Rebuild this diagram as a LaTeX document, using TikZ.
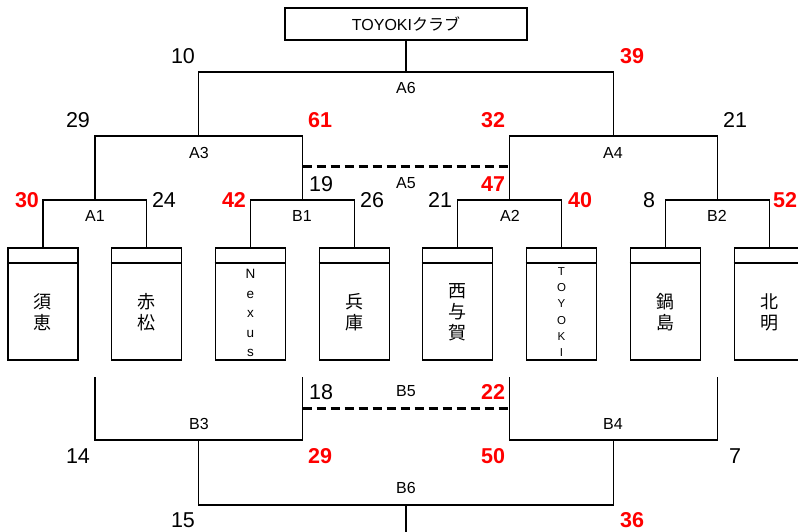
\documentclass[tikz,border=0pt]{standalone}
\usepackage{fontspec}
\setmainfont{Liberation Sans}
\newfontfamily\jpfont{Noto Sans CJK JP}
\usetikzlibrary{positioning}

\tikzset{
  line/.style={line width=1.8pt},
  dashline/.style={line width=3pt, dash pattern=on 9pt off 5pt},
  titlebox/.style={draw, line width=1.8pt, minimum width=242pt, minimum height=32pt, inner sep=0pt, font=\fontsize{16}{16}\selectfont},
  team/.style={draw, line width=1.8pt, minimum width=70pt, minimum height=112pt, inner sep=0pt},
  teamname/.style={align=center, inner sep=0pt, font=\jpfont\fontsize{18}{21}\selectfont},
  match/.style={inner sep=0pt, font=\fontsize{16}{16}\selectfont},
  score/.style={inner sep=0pt, font=\fontsize{21.5}{21.5}\selectfont},
  win/.style={inner sep=0pt, text=red, font=\bfseries\fontsize{21.5}{21.5}\selectfont},
}

\begin{document}
\begin{tikzpicture}[x=1pt,y=-1pt]
    \useasboundingbox (0,0) rectangle (798,532);
    \clip (0,0) rectangle (798,532);

    % Title
    \node[titlebox] (title) at (406,24) {TOYOKI{\jpfont クラブ}};

    % Teams
    \node[team] (t1) at (43,304) {};
    \node[team] (t2) at (146.5,304) {};
    \node[team] (t3) at (250.5,304) {};
    \node[team] (t4) at (354.5,304) {};
    \node[team] (t5) at (457.5,304) {};
    \node[team] (t6) at (561.5,304) {};
    \node[team] (t7) at (665.5,304) {};
    \node[team] (t8) at (769.5,304) {};
    \foreach \t in {t1,t2,t3,t4,t5,t6,t7,t8}
        \draw[line] ([yshift=-16pt]\t.north west) -- ([yshift=-16pt]\t.north east);

    \node[teamname] (n1) at ([yshift=-8pt]t1.center) {須\\恵};
    \node[teamname] (n2) at ([yshift=-8pt]t2.center) {赤\\松};
    \node[teamname, font=\fontsize{13.5}{19.5}\selectfont] (n3) at ([yshift=-9pt]t3.center) {N\\e\\x\\u\\s};
    \node[teamname] (n4) at ([yshift=-8pt]t4.center) {兵\\庫};
    \node[teamname] (n5) at ([yshift=-8pt]t5.center) {西\\与\\賀};
    \node[teamname, font=\fontsize{11.5}{16.2}\selectfont] (n6) at ([yshift=-8pt]t6.center) {T\\O\\Y\\O\\K\\I};
    \node[teamname] (n7) at ([yshift=-8pt]t7.center) {鍋\\島};
    \node[teamname] (n8) at ([yshift=-8pt]t8.center) {北\\明};

    % Upper bracket
    \coordinate (A1) at (95,200);
    \coordinate (B1) at (302.5,200);
    \coordinate (A2) at (509.5,200);
    \coordinate (B2) at (717.5,200);
    \coordinate (A3) at (198.5,136);
    \coordinate (A4) at (613.5,136);
    \coordinate (A6) at (406,72);
    \coordinate (A5l) at (302.5,167);
    \coordinate (A5r) at (509.5,167);

    \draw[line] (t1.north) |- (A1) -| (t2.north);
    \draw[line] (t3.north) |- (B1) -| (t4.north);
    \draw[line] (t5.north) |- (A2) -| (t6.north);
    \draw[line] (t7.north) |- (B2) -| (t8.north);
    \draw[line] (A1) |- (A3) -| (B1);
    \draw[line] (A2) |- (A4) -| (B2);
    \draw[line] (A3) |- (A6) -| (A4);
    \draw[line] (A6) -- (title.south);
    \draw[dashline] (A5l) -- (A5r);

    % Lower bracket
    \coordinate (s1) at (95,377);
    \coordinate (s2) at (302.5,377);
    \coordinate (s3) at (509.5,377);
    \coordinate (s4) at (717.5,377);
    \coordinate (B3) at (198.5,440);
    \coordinate (B4) at (613.5,440);
    \coordinate (B6) at (406,505);
    \coordinate (B5l) at (302.5,408);
    \coordinate (B5r) at (509.5,408);
    \coordinate (out) at (406,540);

    \draw[line] (s1) |- (B3) -| (s2);
    \draw[line] (s3) |- (B4) -| (s4);
    \draw[line] (B3) |- (B6) -| (B4);
    \draw[line] (B6) -- (out);
    \draw[dashline] (B5l) -- (B5r);

    % Match labels
    \node[match] (lA6) at (406,88) {A6};
    \node[match] (lA3) at (199,153) {A3};
    \node[match] (lA4) at (613,153) {A4};
    \node[match] (lA5) at (406,183) {A5};
    \node[match] (lA1) at (95,216) {A1};
    \node[match] (lB1) at (302,216) {B1};
    \node[match] (lA2) at (510,216) {A2};
    \node[match] (lB2) at (717,216) {B2};
    \node[match] (lB5) at (406,391) {B5};
    \node[match] (lB3) at (199,424) {B3};
    \node[match] (lB4) at (613,424) {B4};
    \node[match] (lB6) at (406,488) {B6};

    % Scores
    \node[score] (pA6l) at (183,56) {10};
    \node[win]   (pA6r) at (632,56) {39};
    \node[score] (pA3l) at (78,120) {29};
    \node[win]   (pA3r) at (320,120) {61};
    \node[win]   (pA4l) at (493,120) {32};
    \node[score] (pA4r) at (735,120) {21};
    \node[score] (pA5l) at (321,184) {19};
    \node[win]   (pA5r) at (493,184) {47};
    \node[win]   (pA1l) at (27,200) {30};
    \node[score] (pA1r) at (164,200) {24};
    \node[win]   (pB1l) at (234,200) {42};
    \node[score] (pB1r) at (372,200) {26};
    \node[score] (pA2l) at (440,200) {21};
    \node[win]   (pA2r) at (580,200) {40};
    \node[score] (pB2l) at (649,200) {8};
    \node[win]   (pB2r) at (785,200) {52};
    \node[score] (pB5l) at (321,392) {18};
    \node[win]   (pB5r) at (493,392) {22};
    \node[score] (pB3l) at (78,456) {14};
    \node[win]   (pB3r) at (320,456) {29};
    \node[win]   (pB4l) at (493,456) {50};
    \node[score] (pB4r) at (735,456) {7};
    \node[score] (pB6l) at (183,520) {15};
    \node[win]   (pB6r) at (632,520) {36};
\end{tikzpicture}
\end{document}
